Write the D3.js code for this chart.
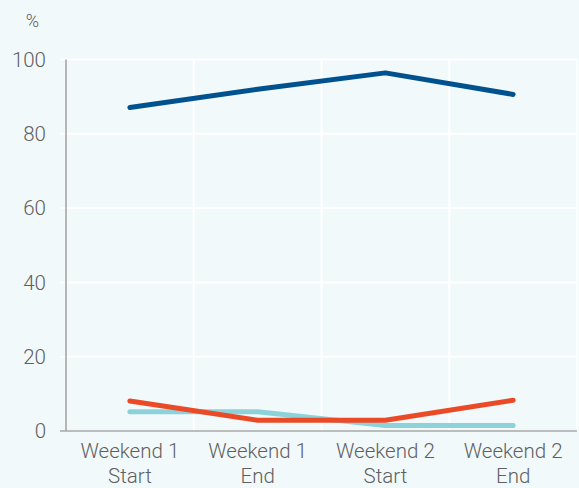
<!DOCTYPE html>
<html>
<head>
<meta charset="utf-8">
<script src="https://cdn.jsdelivr.net/npm/d3@7"></script>
<style>
  html, body { margin: 0; padding: 0; background: #f2f9fb; }
  text { font-family: Roboto, "Noto Sans", sans-serif; font-weight: 300; fill: #5f5f5f; }
</style>
</head>
<body>
<script>
'use strict';

// chart data
const categories = [["Weekend 1", "Start"], ["Weekend 1", "End"], ["Weekend 2", "Start"], ["Weekend 2", "End"]];
const navyValues = [87.1, 92.0, 96.4, 90.6];
const redValues = [8.1, 2.9, 2.9, 8.3];
const tealValues = [5.2, 5.2, 1.5, 1.5];
const yTicks = [0, 20, 40, 60, 80, 100];

(function() {

  const width = 579, height = 488;
  const svg = d3.select('body').append('svg')
    .attr('width', width)
    .attr('height', height);

  // background
  svg.append('rect')
    .attr('width', width).attr('height', height)
    .attr('fill', '#f2f9fb');

  const plotLeft = 66, plotRight = 577, plotTop = 59.5, plotBottom = 431;

  let xScale = d3.scaleBand()
    .domain(d3.range(categories.length))
    .range([plotLeft, plotRight]);

  let yScale = d3.scaleLinear()
    .domain([0, 100])
    .range([plotBottom, plotTop]);

  // horizontal gridlines
  svg.append('g').selectAll('line')
    .data(yTicks.filter(d => d > 0))
    .enter().append('line')
    .attr('x1', plotLeft - 6).attr('x2', plotRight)
    .attr('y1', d => yScale(d)).attr('y2', d => yScale(d))
    .attr('stroke', '#ffffff').attr('stroke-width', 2);

  // vertical gridlines at band boundaries
  svg.append('g').selectAll('line')
    .data(d3.range(1, categories.length + 1))
    .enter().append('line')
    .attr('x1', d => xScale(d - 1) + xScale.bandwidth())
    .attr('x2', d => xScale(d - 1) + xScale.bandwidth())
    .attr('y1', plotTop).attr('y2', plotBottom)
    .attr('stroke', '#ffffff').attr('stroke-width', 2);

  // axes lines
  svg.append('line')
    .attr('x1', plotLeft).attr('x2', plotLeft)
    .attr('y1', plotTop).attr('y2', plotBottom)
    .attr('stroke', '#a0a0a0').attr('stroke-width', 1.5);
  svg.append('line')
    .attr('x1', plotLeft - 6).attr('x2', plotRight)
    .attr('y1', plotBottom).attr('y2', plotBottom)
    .attr('stroke', '#a8a8a8').attr('stroke-width', 1.5);

  // y tick labels
  svg.append('g').selectAll('text')
    .data(yTicks)
    .enter().append('text')
    .attr('x', 46)
    .attr('y', d => yScale(d))
    .attr('dy', '0.36em')
    .attr('text-anchor', 'end')
    .style('font-size', '20.5px')
    .text(d => d);

  // unit label
  svg.append('text')
    .attr('x', 39).attr('y', 27)
    .attr('text-anchor', 'end')
    .style('font-size', '18px')
    .text('%');

  // x labels
  let xLabels = svg.append('g').selectAll('text')
    .data(categories)
    .enter().append('text')
    .attr('text-anchor', 'middle')
    .style('font-size', '20.5px')
    .attr('transform', (d, i) => 'translate(' + (xScale(i) + xScale.bandwidth() / 2) + ',0)');
  xLabels.append('tspan').attr('x', 0).attr('y', 458).text(d => d[0]);
  xLabels.append('tspan').attr('x', 0).attr('y', 483).text(d => d[1]);

  // lines
  let line = d3.line()
    .x((d, i) => xScale(i) + xScale.bandwidth() / 2)
    .y(d => yScale(d));

  const series = [
    { values: tealValues, color: '#8dd1d9' },
    { values: redValues, color: '#eb4a26' },
    { values: navyValues, color: '#00528f' }
  ];

  svg.append('g').selectAll('path')
    .data(series)
    .enter().append('path')
    .attr('d', d => line(d.values))
    .attr('fill', 'none')
    .attr('stroke', d => d.color)
    .attr('stroke-width', 5)
    .attr('stroke-linecap', 'round')
    .attr('stroke-linejoin', 'round');

})();
</script>
</body>
</html>
